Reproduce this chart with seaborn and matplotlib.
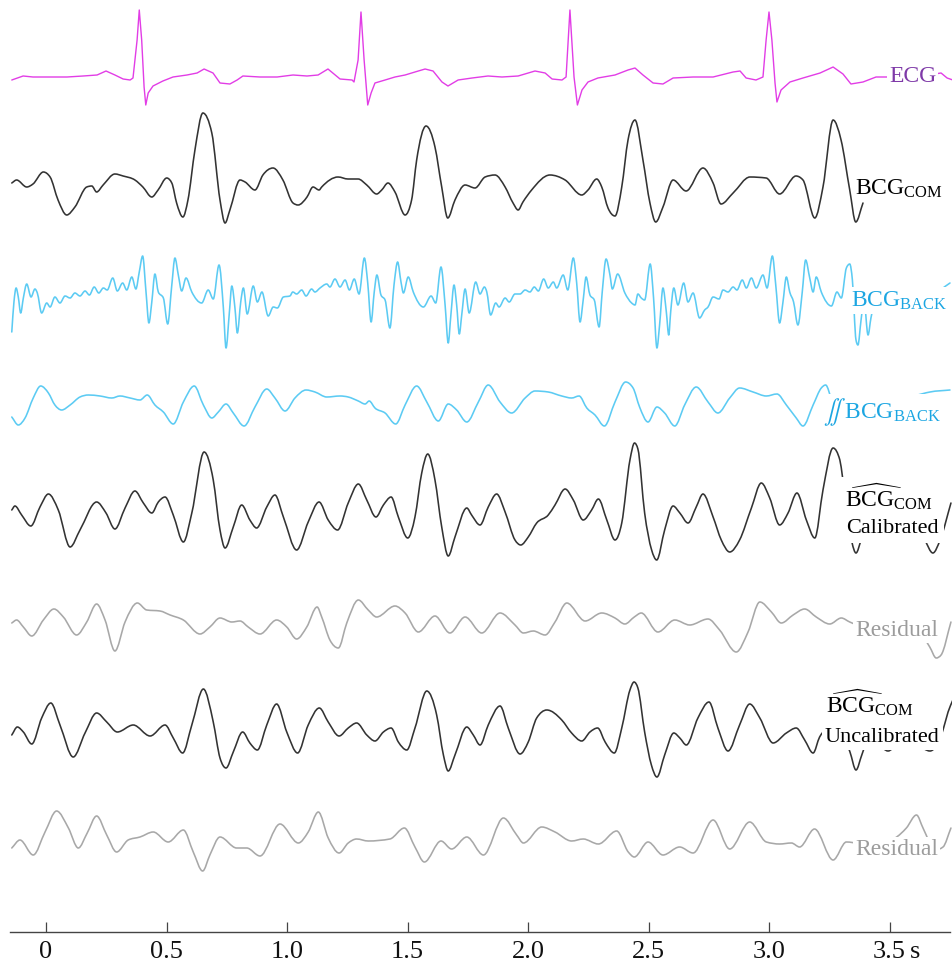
import numpy as np
import matplotlib
matplotlib.use("Agg")
import matplotlib.pyplot as plt
from matplotlib.path import Path
from matplotlib.patches import PathPatch
import seaborn as sns

sns.set_theme(style="white")
plt.rcParams['font.family'] = ['Liberation Serif', 'DejaVu Serif']
plt.rcParams['mathtext.fontset'] = 'custom'
plt.rcParams['mathtext.rm'] = 'Liberation Serif'
plt.rcParams['mathtext.it'] = 'Liberation Serif:italic'
plt.rcParams['mathtext.bf'] = 'Liberation Serif:bold'
plt.rcParams['mathtext.fallback'] = 'stix'

# ---------------- data: (time [s], amplitude [a.u.]) ----------------
ecg = [(-0.142,-3),(-0.095,1),(-0.054,0),(0.017,0),(0.087,0),(0.154,1),(0.212,2),(0.249,6),(0.286,2),(0.320,-2),
       (0.349,-3),(0.361,-1),(0.378,37),(0.387,67),(0.397,37),(0.407,-10),(0.414,-28),(0.424,-16),(0.444,-9),(0.485,-4),
       (0.527,0),(0.585,2),(0.627,4),(0.656,8),(0.693,4),(0.722,-6),(0.763,-7),(0.793,-3),(0.817,1),(0.888,0),
       (0.959,0),(1.025,2),(1.083,1),(1.129,2),(1.170,8),(1.220,-2),(1.270,-3),(1.278,-5),(1.295,17),(1.307,65),
       (1.320,17),(1.335,-28),(1.349,-16),(1.365,-6),(1.407,-3),(1.448,0),(1.490,2),(1.531,5),(1.573,8),(1.606,6),
       (1.643,-5),(1.668,-9),(1.710,-3),(1.768,-1),(1.834,1),(1.892,0),(1.959,1),(2.029,6),(2.071,4),(2.100,-2),
       (2.141,-3),(2.158,0),(2.174,67),(2.191,0),(2.205,-28),(2.224,-13),(2.249,-5),(2.290,-1),(2.361,2),(2.415,7),
       (2.444,9),(2.477,2),(2.519,-6),(2.560,-7),(2.602,-1),(2.685,0),(2.768,0),(2.851,5),(2.880,6),(2.905,-1),
       (2.946,-3),(2.975,0),(2.988,37),(3.000,65),(3.012,37),(3.025,-6),(3.033,-25),(3.050,-13),(3.087,-5),(3.141,-1),
       (3.212,4),(3.266,10),(3.307,3),(3.340,-7),(3.390,-5),(3.444,0),(3.485,0),(3.606,0),(3.714,4),(3.739,-1),(3.763,-3)]

bcg_com = [(-0.142,2),(-0.122,5),(-0.080,-2),(-0.054,1),(-0.011,13),(0.017,8),(0.050,-15),(0.086,-30),(0.120,-22),(0.169,-2),
           (0.190,-1),(0.210,-7),(0.237,0),(0.286,11),(0.320,9),(0.369,5),(0.402,-2),(0.439,-12),(0.465,-5),(0.501,7),
           (0.522,2),(0.542,-18),(0.568,-32),(0.589,-15),(0.618,35),(0.651,72),(0.688,52),(0.722,-15),(0.743,-38),(0.763,-25),
           (0.805,5),(0.826,3),(0.867,-5),(0.900,10),(0.942,17),(0.983,5),(1.025,-18),(1.046,-20),(1.083,-12),(1.108,-2),
           (1.133,-5),(1.144,-2),(1.212,8),(1.253,6),(1.295,6),(1.331,0),(1.372,-9),(1.393,-5),(1.419,2),(1.448,-7),
           (1.490,-30),(1.517,-15),(1.538,25),(1.577,59),(1.614,38),(1.642,-2),(1.667,-33),(1.697,-15),(1.739,0),(1.780,-3),
           (1.822,8),(1.863,10),(1.905,-2),(1.938,-18),(1.959,-25),(1.979,-17),(2.015,-5),(2.091,10),(2.154,5),(2.223,-10),
           (2.249,-5),(2.285,6),(2.306,-2),(2.332,-23),(2.361,-31),(2.389,-2),(2.415,45),(2.444,65),(2.477,25),(2.506,-18),
           (2.530,-37),(2.560,-22),(2.602,5),(2.656,-6),(2.726,17),(2.768,2),(2.801,-19),(2.851,-8),(2.921,8),(2.988,7),
           (3.044,-9),(3.112,9),(3.141,5),(3.190,-33),(3.224,-2),(3.266,65),(3.299,45),(3.335,-5),(3.360,-37),(3.390,-18)]

bcg_back = [(-0.142,-40),(-0.133,-10),(-0.124,4),(-0.115,-5),(-0.105,-21),(-0.094,-6),(-0.080,8),(-0.062,-5),(-0.046,3),(-0.036,-1),
            (-0.018,-21),(0.003,-11),(0.017,-15),(0.037,-5),(0.058,-11),(0.079,-4),(0.100,-6),(0.120,-1),(0.141,-4),(0.162,1),
            (0.180,-3),(0.200,5),(0.219,-1),(0.238,4),(0.254,2),(0.277,14),(0.296,1),(0.318,9),(0.335,2),(0.356,15),
            (0.373,3),(0.387,20),(0.401,36),(0.415,0),(0.427,-31),(0.439,-10),(0.452,18),(0.466,0),(0.487,-6),(0.505,-32),
            (0.522,7),(0.535,34),(0.549,17),(0.563,1),(0.581,14),(0.605,0),(0.646,-11),(0.673,2),(0.694,-7),(0.718,27),
            (0.736,-16),(0.747,-56),(0.761,-20),(0.771,6),(0.784,-16),(0.794,-41),(0.808,-10),(0.819,4),(0.835,-22),(0.860,6),
            (0.877,-10),(0.896,0),(0.922,-24),(0.943,-15),(0.960,-16),(0.985,-5),(1.012,-4),(1.024,0),(1.040,-2),(1.061,2),
            (1.079,-4),(1.102,3),(1.116,0),(1.137,4),(1.165,8),(1.178,5),(1.199,13),(1.220,5),(1.241,12),(1.259,2),
            (1.279,13),(1.299,-2),(1.321,34),(1.335,9),(1.349,-30),(1.362,0),(1.373,17),(1.390,-3),(1.407,-8),(1.427,-36),
            (1.444,7),(1.459,30),(1.473,10),(1.483,-1),(1.503,15),(1.524,0),(1.566,-15),(1.598,-4),(1.617,-11),(1.639,25),
            (1.656,-13),(1.669,-51),(1.680,-23),(1.693,7),(1.704,-13),(1.715,-42),(1.725,-23),(1.739,3),(1.756,-21),(1.783,10),
            (1.801,-2),(1.819,5),(1.829,0),(1.845,-23),(1.866,-11),(1.880,-15),(1.905,-6),(1.922,-10),(1.946,-2),(1.967,-2),
            (1.988,2),(2.008,0),(2.026,5),(2.043,1),(2.065,13),(2.084,4),(2.105,10),(2.119,4),(2.146,17),(2.165,2),
            (2.188,34),(2.202,9),(2.216,-30),(2.229,-8),(2.241,15),(2.257,-3),(2.275,-8),(2.295,-35),(2.308,0),(2.324,33),
            (2.340,17),(2.350,3),(2.372,18),(2.402,-1),(2.430,-11),(2.444,-13),(2.456,-2),(2.470,-6),(2.484,-8),(2.507,28),
            (2.521,-6),(2.535,-56),(2.546,-33),(2.560,4),(2.574,-20),(2.584,-43),(2.592,-20),(2.605,4),(2.622,-13),(2.646,9),
            (2.664,-10),(2.685,-1),(2.712,-26),(2.733,-18),(2.747,-15),(2.768,-5),(2.793,-7),(2.809,2),(2.830,0),(2.851,5),
            (2.867,2),(2.889,12),(2.906,4),(2.927,14),(2.947,4),(2.975,17),(2.992,4),(3.014,36),(3.028,7),(3.044,-31),
            (3.058,-10),(3.072,15),(3.086,0),(3.102,-10),(3.120,-33),(3.138,0),(3.152,32),(3.169,14),(3.183,0),(3.196,15),
            (3.217,0),(3.259,-14),(3.282,0),(3.300,-6),(3.321,24),(3.335,28),(3.346,12),(3.361,-48),(3.369,-53),(3.382,-28),
            (3.394,-8),(3.411,-43),(3.423,-26),(3.444,-8),(3.544,2),(3.668,-3),(3.751,9)]

bcg_back_int = [(-0.142,-12),(-0.115,-20),(-0.087,-13),(-0.053,7),(-0.022,19),(0.010,12),(0.037,0),(0.065,-5),(0.100,0),(0.141,8),
                (0.176,10),(0.224,9),(0.273,7),(0.307,9),(0.349,7),(0.390,5),(0.420,10),(0.452,0),(0.487,-7),(0.528,-19),
                (0.570,3),(0.615,19),(0.653,0),(0.688,-13),(0.715,-7),(0.747,1),(0.777,-8),(0.822,-21),(0.867,-2),(0.916,16),
                (0.950,7),(0.992,-6),(1.033,7),(1.079,15),(1.116,13),(1.165,8),(1.220,9),(1.254,8),(1.296,4),(1.324,1),
                (1.341,4),(1.365,-3),(1.407,-8),(1.451,-19),(1.490,0),(1.538,19),(1.580,3),(1.628,-16),(1.669,1),(1.704,-5),
                (1.746,-17),(1.794,3),(1.835,20),(1.884,3),(1.932,-8),(1.988,7),(2.029,14),(2.084,13),(2.140,9),(2.181,7),
                (2.212,9),(2.244,-3),(2.278,-10),(2.317,-21),(2.361,3),(2.405,23),(2.436,17),(2.463,-2),(2.498,-17),(2.535,-2),
                (2.567,-8),(2.609,-21),(2.650,0),(2.698,18),(2.747,3),(2.788,-8),(2.837,7),(2.878,17),(2.934,13),(2.989,9),
                (3.033,11),(3.072,0),(3.113,-13),(3.141,-21),(3.183,0),(3.217,17),(3.235,20),(3.261,5),(3.315,-10),(3.378,-16),
                (3.423,-20),(3.444,-23),(3.469,-20),(3.544,0),(3.668,13),(3.751,15)]

bcg_cal = [(-0.142,2),(-0.129,6),(-0.101,-3),(-0.063,-14),(-0.025,5),(0.010,18),(0.051,2),(0.100,-35),(0.141,-18),(0.210,10),
           (0.249,-1),(0.286,-17),(0.328,4),(0.369,21),(0.404,9),(0.439,-1),(0.466,10),(0.494,15),(0.528,-3),(0.570,-30),
           (0.605,-1),(0.656,60),(0.694,32),(0.722,-18),(0.743,-36),(0.777,-15),(0.812,7),(0.846,-8),(0.874,-16),(0.916,5),
           (0.950,17),(0.985,-5),(1.040,-38),(1.088,-10),(1.133,10),(1.171,-8),(1.210,-18),(1.254,9),(1.296,28),(1.331,12),
           (1.369,-5),(1.400,7),(1.432,15),(1.462,-5),(1.501,-26),(1.531,-5),(1.559,39),(1.584,58),(1.614,32),(1.642,-15),
           (1.669,-44),(1.697,-25),(1.746,4),(1.766,-3),(1.801,-13),(1.835,5),(1.870,18),(1.905,0),(1.946,-28),(1.970,-33),
           (2.001,-25),(2.036,-11),(2.084,-3),(2.112,7),(2.154,23),(2.188,12),(2.229,-8),(2.264,2),(2.292,13),(2.327,-8),
           (2.361,-28),(2.389,-11),(2.423,52),(2.442,69),(2.456,63),(2.484,-1),(2.513,-38),(2.534,-48),(2.567,-18),(2.602,6),
           (2.630,-1),(2.664,-11),(2.698,5),(2.726,18),(2.768,-5),(2.802,-28),(2.837,-40),(2.878,-28),(2.927,4),(2.968,29),
           (3.003,14),(3.044,-13),(3.079,-1),(3.116,19),(3.155,-8),(3.190,-26),(3.224,22),(3.266,64),(3.294,52),(3.305,35),
           (3.324,2),(3.344,-30),(3.361,-41),(3.382,-28),(3.419,2),(3.502,22),(3.585,7),(3.647,-28),(3.680,-41),(3.710,-28),
           (3.755,9)]

resid_cal = [(-0.142,-1),(-0.122,2),(-0.094,-5),(-0.059,-14),(-0.011,2),(0.033,13),(0.072,5),(0.127,-13),(0.169,0),(0.210,18),
             (0.245,2),(0.286,-29),(0.328,0),(0.379,19),(0.418,12),(0.473,11),(0.515,7),(0.570,2),(0.639,-12),(0.680,-5),
             (0.722,4),(0.771,0),(0.805,1),(0.839,-5),(0.888,-12),(0.957,2),(0.999,-5),(1.040,-17),(1.082,-5),(1.125,15),
             (1.144,5),(1.178,-18),(1.213,-26),(1.248,-1),(1.296,22),(1.337,12),(1.372,5),(1.448,16),(1.490,9),(1.545,-10),
             (1.614,6),(1.676,-11),(1.739,5),(1.808,-11),(1.884,9),(1.946,-3),(1.981,-11),(2.022,-9),(2.071,-13),(2.112,0),
             (2.161,19),(2.237,1),(2.306,9),(2.361,4),(2.402,-2),(2.441,5),(2.470,9),(2.539,-10),(2.609,2),(2.671,-3),
             (2.747,3),(2.795,-8),(2.864,-30),(2.913,-10),(2.962,20),(3.010,10),(3.051,-1),(3.100,7),(3.148,13),(3.196,5),
             (3.252,-2),(3.300,4),(3.335,0),(3.419,-6),(3.502,-3),(3.606,-6),(3.667,-25),(3.694,-36),(3.714,-33),(3.755,0)]

bcg_uncal = [(-0.142,0),(-0.119,8),(-0.094,3),(-0.059,-9),(-0.018,17),(0.020,32),(0.058,10),(0.113,-22),(0.162,2),(0.210,22),
             (0.252,13),(0.296,3),(0.362,10),(0.432,-1),(0.494,10),(0.528,-3),(0.567,-18),(0.605,10),(0.653,46),(0.694,13),
             (0.722,-23),(0.747,-33),(0.777,-17),(0.816,3),(0.846,-8),(0.877,-15),(0.916,10),(0.957,31),(0.999,3),(1.044,-18),
             (1.088,10),(1.134,27),(1.171,13),(1.216,-1),(1.254,7),(1.289,12),(1.331,0),(1.365,-6),(1.400,3),(1.432,7),
             (1.462,-7),(1.497,-15),(1.531,7),(1.580,44),(1.621,20),(1.649,-20),(1.669,-36),(1.697,-20),(1.746,8),(1.773,0),
             (1.801,-10),(1.835,10),(1.884,29),(1.918,7),(1.967,-19),(2.001,-7),(2.036,17),(2.078,25),(2.140,15),(2.181,2),
             (2.223,-6),(2.257,3),(2.289,7),(2.320,-7),(2.358,-18),(2.389,7),(2.423,45),(2.440,53),(2.456,47),(2.484,3),
             (2.512,-30),(2.535,-42),(2.567,-20),(2.605,2),(2.630,-3),(2.657,-10),(2.705,17),(2.751,33),(2.788,7),(2.830,-16),
             (2.878,10),(2.920,31),(2.962,17),(3.017,-8),(3.072,2),(3.113,7),(3.148,-5),(3.183,-18),(3.210,-2),(3.224,3),
             (3.253,10),(3.295,5),(3.336,-17),(3.361,-35),(3.385,-20),(3.419,0),(3.494,-16),(3.564,0),(3.668,-16),(3.722,5),
             (3.743,23),(3.763,35)]

resid_uncal = [(-0.142,-6),(-0.108,2),(-0.053,-13),(-0.004,10),(0.044,31),(0.093,14),(0.134,-6),(0.171,9),(0.210,26),(0.252,7),
               (0.293,-10),(0.341,2),(0.390,5),(0.445,10),(0.507,0),(0.570,12),(0.611,-10),(0.650,-29),(0.680,-13),(0.722,5),
               (0.791,-6),(0.833,-6),(0.888,-14),(0.971,18),(1.047,-1),(1.088,10),(1.130,30),(1.171,4),(1.216,-11),(1.254,-1),
               (1.289,3),(1.337,1),(1.427,3),(1.487,14),(1.531,-5),(1.570,-20),(1.639,1),(1.683,-7),(1.746,5),(1.815,-13),
               (1.898,24),(1.953,7),(1.981,-1),(2.057,15),(2.112,10),(2.181,1),(2.229,3),(2.292,-2),(2.368,11),(2.416,-10),
               (2.441,-15),(2.498,0),(2.560,-13),(2.629,-5),(2.685,-11),(2.768,22),(2.837,-7),(2.920,20),(2.989,0),(3.044,-2),
               (3.093,-1),(3.127,-5),(3.189,13),(3.266,-18),(3.321,0),(3.419,-3),(3.523,4),(3.570,14),(3.612,27),(3.639,14),
               (3.689,-8),(3.722,-5),(3.755,14)]

tick_values = [0, 0.5, 1.0, 1.5, 2.0, 2.5, 3.0, 3.5]
tick_labels = ["0", "0.5", "1.0", "1.5", "2.0", "2.5", "3.0", "3.5"]
time_unit = "s"

# ---------------- styling ----------------
C_ECG = "#e23de6"
C_ECG_TXT = "#7f3aa8"
C_BACK = "#5ccbf3"
C_BACK_TXT = "#1ca6e2"
C_BLACK = "#333333"
C_RES = "#a8a8a8"
C_RES_TXT = "#9c9c9c"


def smooth_trace(ax, t, y, color, lw):
    """Draw a trace through the read points as a monotone cubic curve (rendering style only)."""
    h = np.diff(t)
    s = np.diff(y) / h
    m = np.zeros(len(t))
    m[0], m[-1] = s[0], s[-1]
    for i in range(1, len(t) - 1):
        if s[i - 1] * s[i] <= 0:
            m[i] = 0.0
        else:
            p = (s[i - 1] * h[i] + s[i] * h[i - 1]) / (h[i - 1] + h[i])
            m[i] = np.sign(s[i]) * min(abs(s[i - 1]), abs(s[i]), 0.5 * abs(p)) * 2
    verts = [(t[0], y[0])]
    codes = [Path.MOVETO]
    for i in range(len(t) - 1):
        d = h[i] / 3.0
        verts += [(t[i] + d, y[i] + m[i] * d), (t[i + 1] - d, y[i + 1] - m[i + 1] * d), (t[i + 1], y[i + 1])]
        codes += [Path.CURVE4] * 3
    ax.add_patch(PathPatch(Path(verts, codes), facecolor="none", edgecolor=color, lw=lw,
                           transform=ax.transData, capstyle="round", joinstyle="round"))


W, H = 953, 967
fig = plt.figure(figsize=(W / 100, H / 100), dpi=100)
ax = fig.add_axes([0, 0, 1, 1])
ax.set_xlim(-46 / 241, (W - 46) / 241)
ax.set_ylim(-H, 0)
ax.axis("off")

# ECG drawn with seaborn (sharp, noisy trace)
arr = np.array(ecg, dtype=float)
sns.lineplot(x=arr[:, 0], y=arr[:, 1] - 77, ax=ax, color=C_ECG, lw=1.0, sort=False, estimator=None)

traces = [
    (bcg_com, 185, C_BLACK, 1.15),
    (bcg_back, 292, C_BACK, 1.15),
    (bcg_back_int, 405, C_BACK, 1.15),
    (bcg_cal, 512, C_BLACK, 1.15),
    (resid_cal, 622, C_RES, 1.15),
    (bcg_uncal, 735, C_BLACK, 1.15),
    (resid_uncal, 842, C_RES, 1.15),
]
for pts, base, col, lw in traces:
    arr = np.array(pts, dtype=float)
    smooth_trace(ax, arr[:, 0], arr[:, 1] - base, col, lw)

box = dict(facecolor="white", edgecolor="none", pad=1.5)
box2 = dict(facecolor="white", edgecolor="none", pad=3.5)
box3 = dict(facecolor="white", edgecolor="none", pad=2.2)
fs = 17
ax.text(3.498, -82, "ECG", color=C_ECG_TXT, fontsize=fs, ha="left", va="baseline", bbox=box)
ax.text(3.357, -195, r"$\mathrm{BCG}_{\mathrm{COM}}$", color="black", fontsize=fs, ha="left", va="baseline", bbox=box)
ax.text(3.340, -306.5, r"$\mathrm{BCG}_{\mathrm{BACK}}$", color=C_BACK_TXT, fontsize=fs, ha="left", va="baseline", bbox=box)
ax.text(3.224, -418, r"$\iint\;\mathrm{BCG}_{\mathrm{BACK}}$", color=C_BACK_TXT, fontsize=fs, ha="left", va="baseline", bbox=box)
ax.text(3.315, -507, r"$\widehat{\mathrm{BCG}}_{\mathrm{COM}}$", color="black", fontsize=fs, ha="left", va="baseline", bbox=box2)
ax.text(3.320, -533, "Calibrated", color="black", fontsize=16, ha="left", va="baseline", bbox=box2)
ax.text(3.357, -636, "Residual", color=C_RES_TXT, fontsize=fs, ha="left", va="baseline", bbox=box)
ax.text(3.236, -713, r"$\widehat{\mathrm{BCG}}_{\mathrm{COM}}$", color="black", fontsize=fs, ha="left", va="baseline", bbox=box3)
ax.text(3.232, -741.5, "Uncalibrated", color="black", fontsize=16, ha="left", va="baseline", bbox=box3)
ax.text(3.357, -855, "Residual", color=C_RES_TXT, fontsize=fs, ha="left", va="baseline", bbox=box)
ax.text((910 - 46) / 241, -958, time_unit, color="#111111", fontsize=19, ha="left", va="baseline")

# ---------------- time axis ----------------
axb = fig.add_axes([10 / W, (H - 931.7) / H, 940 / W, 0.02])
axb.set_xlim((10 - 46) / 241, (950 - 46) / 241)
axb.patch.set_visible(False)
for s in ["top", "left", "right"]:
    axb.spines[s].set_visible(False)
axb.spines["bottom"].set_color("#444444")
axb.spines["bottom"].set_linewidth(1.0)
axb.set_yticks([])
axb.set_xticks(tick_values)
axb.set_xticklabels(tick_labels)
axb.tick_params(axis="x", direction="in", length=7.5, width=0.9, color="#444444",
                labelsize=19, pad=7, labelcolor="#111111", bottom=True)
fig.savefig("out.png", dpi=100, facecolor="white")
